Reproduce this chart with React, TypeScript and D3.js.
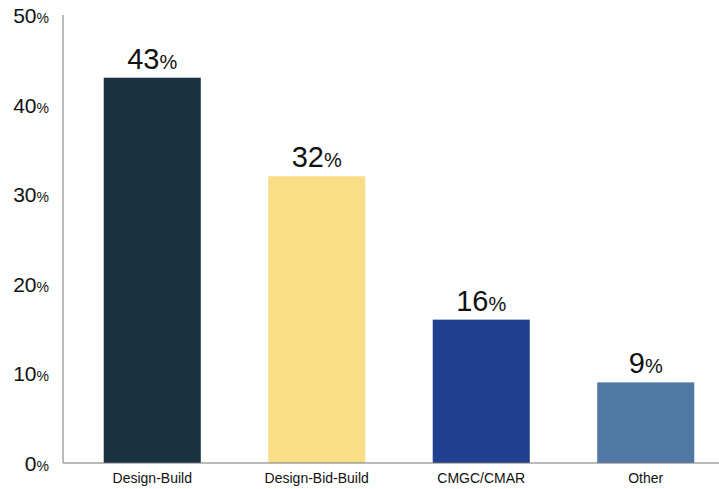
import React from "react";
import * as d3 from "d3";

const categories = ["Design-Build", "Design-Bid-Build", "CMGC/CMAR", "Other"];
const values = [43, 32, 16, 9];
const colors = ["#1a3140", "#f9dd87", "#1f3f8f", "#5079a6"];
const ticks = [0, 10, 20, 30, 40, 50];

const W = 719, H = 489;
const axisX = 63;

export default function App() {
  const y = d3.scaleLinear().domain([0, 50]).range([463, 15]);
  const x = d3.scaleBand<string>().domain(categories).range([70, 728]).paddingInner(0.41).paddingOuter(0.205);
  const font = "'Liberation Sans', Arial, Helvetica, sans-serif";
  return (
    <svg width={W} height={H} style={{ position: "absolute", left: 0, top: 0, fontFamily: font }}>
      <rect width={W} height={H} fill="#fff" />
      {categories.map((c, i) => (
        <g key={c}>
          <rect x={x(c)} y={y(values[i])} width={x.bandwidth()} height={y(0) - y(values[i])} fill={colors[i]} />
          <text x={(x(c) as number) + x.bandwidth() / 2} y={y(values[i]) - 9} textAnchor="middle" fill="#111">
            <tspan fontSize={29}>{values[i]}</tspan>
            <tspan fontSize={20}>%</tspan>
          </text>
          <text x={(x(c) as number) + x.bandwidth() / 2} y={483} textAnchor="middle" fontSize={14} fill="#111">{c}</text>
        </g>
      ))}
      <line x1={axisX} x2={axisX} y1={15} y2={463} stroke="#777" strokeWidth={1} />
      <line x1={axisX} x2={W} y1={463} y2={463} stroke="#777" strokeWidth={1} />
      {ticks.map(t => (
        <text key={t} x={49} y={y(t) + 8} textAnchor="end" fill="#111">
          <tspan fontSize={21}>{t}</tspan>
          <tspan fontSize={14}>%</tspan>
        </text>
      ))}
    </svg>
  );
}
